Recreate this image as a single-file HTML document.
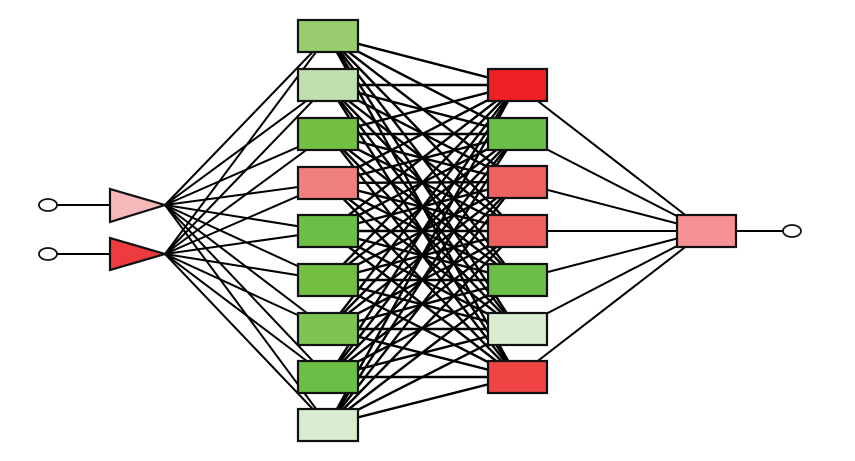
<!DOCTYPE html>
<html><head><style>
html,body{margin:0;padding:0;background:#fff;width:855px;height:461px;overflow:hidden}
</style></head><body>
<svg id="s" width="855" height="461" xmlns="http://www.w3.org/2000/svg">
<g id="lines" stroke="#000" stroke-width="2" fill="none"></g>
<g id="shapes" stroke="#111" stroke-width="2.2"></g>
</svg>
<script>
var NS="http://www.w3.org/2000/svg";
var L=document.getElementById("lines"),S=document.getElementById("shapes");
function el(p,tag,a){var e=document.createElementNS(NS,tag);for(var k in a)e.setAttribute(k,a[k]);p.appendChild(e);return e;}
var h1=[20,69,118,167,215,264,313,361,409];
var c1=["#99cc6e","#bfe0ac","#72bf44","#f07f7f","#6cbf46","#72bf44","#7dc452","#6cbf46","#d8ecd0"];
var h2=[69,118,166,215,264,313,361];
var c2=["#ee2024","#6cbf46","#ef6060","#ef6060","#6cbf46","#d8ecd0","#ef4444"];
var ins=[[165,205],[165,254]];
ins.forEach(function(p){h1.forEach(function(t){el(L,"line",{x1:p[0],y1:p[1],x2:328,y2:t+16});});});
h1.forEach(function(a){h2.forEach(function(b){
  el(L,"line",{x1:328,y1:a+16,x2:517,y2:b+16,"stroke-width":2.4});
});});
h2.forEach(function(b){el(L,"line",{x1:517,y1:b+16,x2:706,y2:231});});
el(L,"line",{x1:57,y1:205,x2:110,y2:205});
el(L,"line",{x1:57,y1:254,x2:110,y2:254});
el(L,"line",{x1:736,y1:231,x2:783,y2:231});
el(S,"polygon",{points:"110,189 110,222 165,205",fill:"#f7b8ba"});
el(S,"polygon",{points:"110,238 110,270 165,254",fill:"#ee3b3f"});
el(S,"ellipse",{cx:48,cy:205,rx:9,ry:6,fill:"#fff","stroke-width":1.8});
el(S,"ellipse",{cx:48,cy:254,rx:9,ry:6,fill:"#fff","stroke-width":1.8});
el(S,"ellipse",{cx:792,cy:231,rx:9,ry:6,fill:"#fff","stroke-width":1.8});
h1.forEach(function(t,i){el(S,"rect",{x:298,y:t,width:60,height:32,fill:c1[i]});});
h2.forEach(function(t,i){el(S,"rect",{x:488,y:t,width:59,height:32,fill:c2[i]});});
el(S,"rect",{x:677,y:215,width:59,height:32,fill:"#f59194"});
</script>
</body></html>
